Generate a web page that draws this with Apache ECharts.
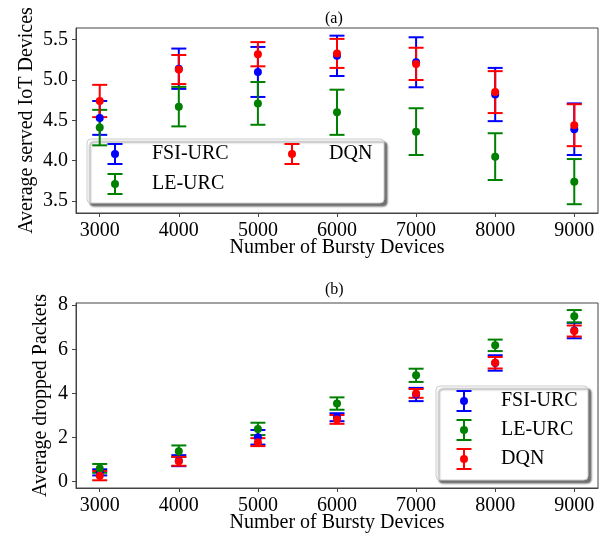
<!DOCTYPE html>
<html>
<head>
<meta charset="utf-8">
<script src="https://cdn.jsdelivr.net/npm/echarts@6/dist/echarts.min.js"></script>
<style>
	html, body { margin: 0; padding: 0; background: #fff; }
	#chart { width: 610px; height: 543px; }
</style>
</head>
<body>
<div id="chart"></div>
<script>
// x values shared by both panels
var devices = [3000, 4000, 5000, 6000, 7000, 8000, 9000];
var servedTicks = [3.5, 4.0, 4.5, 5.0, 5.5];
var droppedTicks = [0, 2, 4, 6, 8];
var schemes = ['FSI-URC', 'LE-URC', 'DQN'];

// (a) average served IoT devices, mean and half error
var fsiServed = [4.53, 5.14, 5.10, 5.30, 5.22, 4.82, 4.39];
var fsiServedErr = [0.21, 0.25, 0.31, 0.25, 0.31, 0.33, 0.32];
var leServed = [4.41, 4.67, 4.71, 4.60, 4.36, 4.05, 3.74];
var leServedErr = [0.22, 0.245, 0.265, 0.28, 0.29, 0.29, 0.28];
var dqnServed = [4.74, 5.13, 5.32, 5.33, 5.20, 4.85, 4.44];
var dqnServedErr = [0.20, 0.18, 0.15, 0.18, 0.20, 0.26, 0.26];

// (b) average dropped packets
var fsiDropped = [0.42, 0.95, 2.01, 2.92, 3.95, 5.38, 6.85];
var fsiDroppedErr = [0.14, 0.25, 0.33, 0.18, 0.30, 0.35, 0.35];
var leDropped = [0.60, 1.38, 2.39, 3.54, 4.82, 6.18, 7.50];
var leDroppedErr = [0.20, 0.26, 0.28, 0.28, 0.30, 0.26, 0.28];
var dqnDropped = [0.27, 0.92, 1.79, 2.82, 4.00, 5.39, 6.83];
var dqnDroppedErr = [0.21, 0.20, 0.18, 0.20, 0.20, 0.26, 0.25];

window.onload = function(){
	var font = 'Liberation Serif';
	var tickFont = '"Liberation Serif", serif';
	var frame = '#444';
	var colors = {'FSI-URC':'#0000ff', 'LE-URC':'#008000', 'DQN':'#ff0000'};

	function renderBar(params, api){
		var x = api.value(0);
		var lo = api.coord([x, api.value(1)]);
		var hi = api.coord([x, api.value(2)]);
		var w = 7.5;
		var style = {stroke: api.visual('color'), lineWidth: 2, fill: null};
		return {
			type: 'group',
			children: [
				{type:'line', shape:{x1:lo[0], y1:lo[1], x2:hi[0], y2:hi[1]}, style: style},
				{type:'line', shape:{x1:lo[0]-w, y1:lo[1], x2:lo[0]+w, y2:lo[1]}, style: style},
				{type:'line', shape:{x1:hi[0]-w, y1:hi[1], x2:hi[0]+w, y2:hi[1]}, style: style}
			]
		};
	}

	function errSeries(name, idx, means, errs){
		return [{
			type: 'custom',
			name: name,
			xAxisIndex: idx,
			yAxisIndex: idx,
			renderItem: renderBar,
			itemStyle: {color: colors[name]},
			encode: {x: 0, y: [1, 2]},
			data: devices.map(function(d, i){ return [d, means[i] - errs[i], means[i] + errs[i]]; }),
			silent: true
		}, {
			type: 'scatter',
			name: name,
			xAxisIndex: idx,
			yAxisIndex: idx,
			symbolSize: 8,
			itemStyle: {color: colors[name], opacity: 1},
			data: devices.map(function(d, i){ return [d, means[i]]; }),
			silent: true
		}];
	}

	var nameStyle = {color: '#000', fontFamily: font, fontSize: 20};

	function xAxis(idx){
		return {
			type: 'value',
			gridIndex: idx,
			min: 2700,
			max: 9300,
			name: 'Number of Bursty Devices',
			nameLocation: 'middle',
			nameGap: 25,
			nameMoveOverlap: false,
			nameTextStyle: nameStyle,
			axisLine: {show: true, onZero: false, lineStyle: {color: frame}},
			axisTick: {show: true, length: 4, customValues: devices, lineStyle: {color: frame}},
			axisLabel: {customValues: devices, margin: 8, color: '#000', fontFamily: tickFont, fontSize: 20, formatter: function(v){ return String(v); }},
			splitLine: {show: false}
		};
	}

	function yAxis(idx, name, min, max, ticks, gap, digits){
		return {
			type: 'value',
			gridIndex: idx,
			min: min,
			max: max,
			name: name,
			nameLocation: 'middle',
			nameGap: gap,
			nameMoveOverlap: false,
			nameTextStyle: nameStyle,
			axisLine: {show: true, onZero: false, lineStyle: {color: frame}},
			axisTick: {show: true, length: 4, customValues: ticks, lineStyle: {color: frame}},
			axisLabel: {customValues: ticks, margin: 8, color: '#000', fontFamily: tickFont, fontSize: 20, formatter: function(v){ return v.toFixed(digits); }},
			splitLine: {show: false}
		};
	}

	// legend boxes drawn as graphic elements (errorbar icon + text)
	function legendBox(x, y, w, h, spots){
		var children = [{
			type: 'rect',
			shape: {x: x, y: y, width: w, height: h, r: 4},
			style: {fill: '#fff', stroke: '#ccc', lineWidth: 1, shadowColor: 'rgba(0,0,0,0.55)', shadowBlur: 2, shadowOffsetX: 3, shadowOffsetY: 3}
		}];
		schemes.forEach(function(name, i){
			var cx = spots[i][0], cy = spots[i][1];
			var st = {stroke: colors[name], lineWidth: 2};
			children.push(
				{type:'line', shape:{x1:cx, y1:cy-10, x2:cx, y2:cy+10}, style: st},
				{type:'line', shape:{x1:cx-7.5, y1:cy-10, x2:cx+7.5, y2:cy-10}, style: st},
				{type:'line', shape:{x1:cx-7.5, y1:cy+10, x2:cx+7.5, y2:cy+10}, style: st},
				{type:'circle', shape:{cx: cx, cy: cy, r: 4}, style: {fill: colors[name]}},
				{type:'text', x: cx + 37, y: cy, style: {text: name, fill: '#000', font: '20px "Liberation Serif"', align: 'left', verticalAlign: 'middle'}}
			);
		});
		return {type: 'group', z: 100, silent: true, children: children};
	}

	var myChart = echarts.init(document.getElementById('chart'));
	var option = {
		backgroundColor: '#fff',
		animation: false,
		title: [
			{text: '(a)', left: 325, top: 11, padding: 0, textStyle: {fontFamily: font, fontSize: 16, fontWeight: 'normal', color: '#000'}},
			{text: '(b)', left: 325, top: 282, padding: 0, textStyle: {fontFamily: font, fontSize: 16, fontWeight: 'normal', color: '#000'}}
		],
		grid: [
			{left: 76, right: 12, top: 28, height: 185, show: true, borderColor: frame, borderWidth: 1, backgroundColor: 'transparent'},
			{left: 76, right: 12, top: 303, height: 185, show: true, borderColor: frame, borderWidth: 1, backgroundColor: 'transparent'}
		],
		graphic: [
			legendBox(87, 139, 297, 64, [[115, 154], [115, 184], [292, 154]]),
			legendBox(436, 386, 152, 94, [[464, 401], [464, 430], [464, 459]])
		],
		xAxis: [xAxis(0), xAxis(1)],
		yAxis: [
			yAxis(0, 'Average served IoT Devices', 3.351, 5.645, servedTicks, 39, 1),
			yAxis(1, 'Average dropped Packets', -0.29, 8.1, droppedTicks, 25, 0)
		],
		series: [].concat(
			errSeries('FSI-URC', 0, fsiServed, fsiServedErr),
			errSeries('LE-URC', 0, leServed, leServedErr),
			errSeries('DQN', 0, dqnServed, dqnServedErr),
			errSeries('FSI-URC', 1, fsiDropped, fsiDroppedErr),
			errSeries('LE-URC', 1, leDropped, leDroppedErr),
			errSeries('DQN', 1, dqnDropped, dqnDroppedErr)
		)
	};
	myChart.setOption(option);
	window.addEventListener('resize', function(){
		myChart.resize();
	});
};
</script>
</body>
</html>
